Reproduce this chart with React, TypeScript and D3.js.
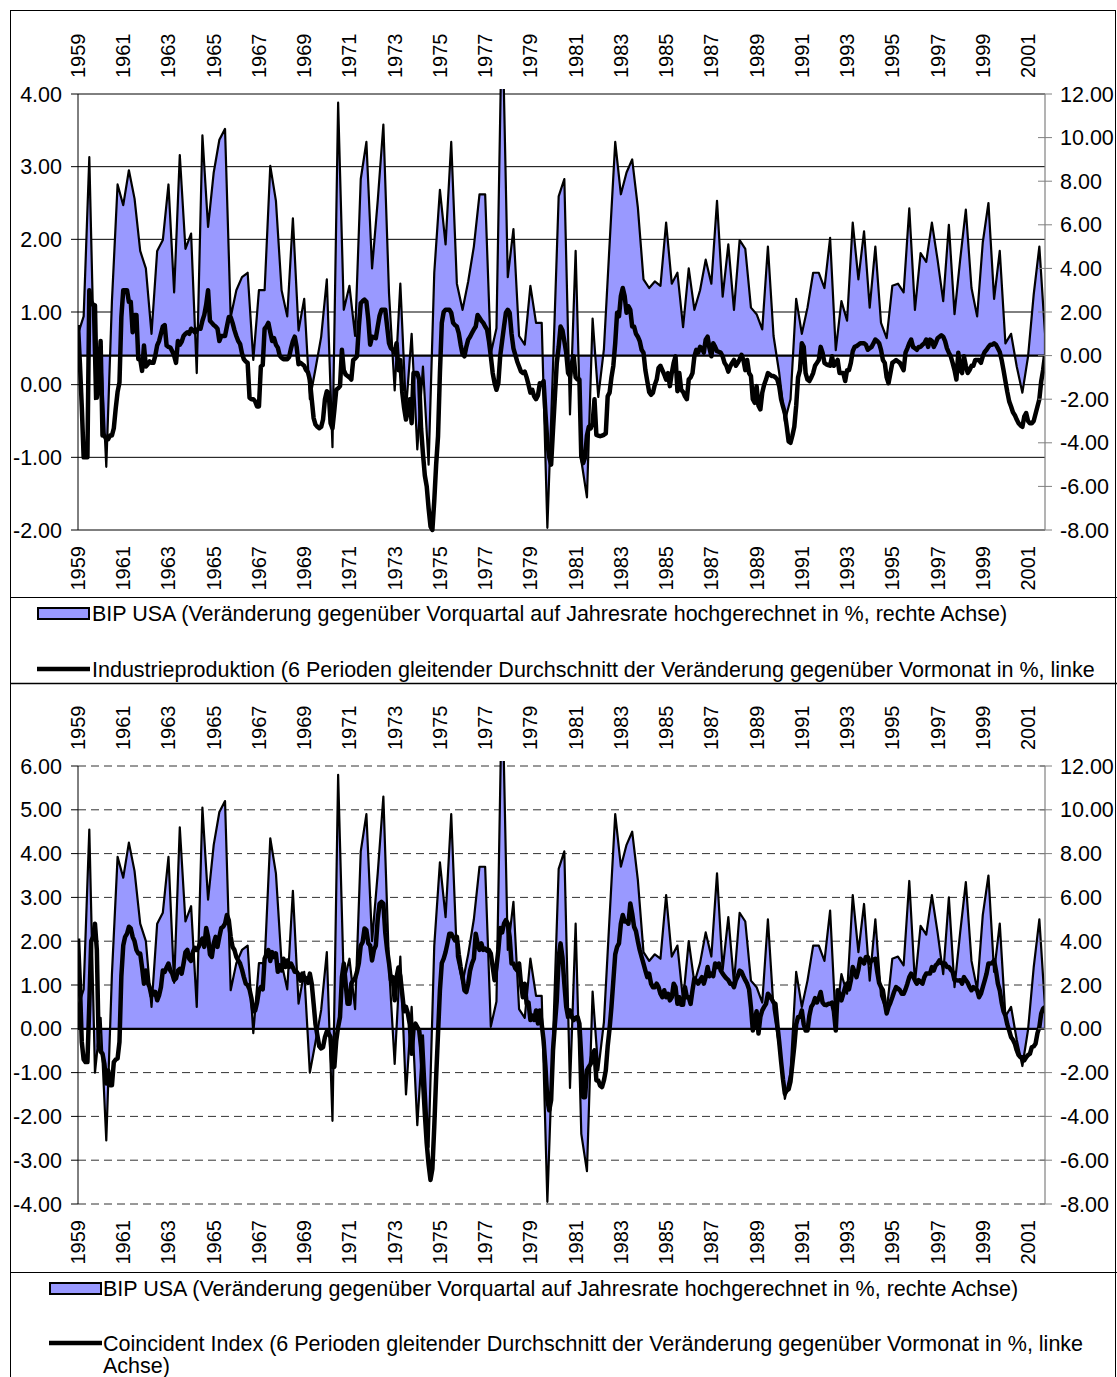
import React from 'react';
import * as d3 from 'd3';

// ---------- data ----------
const yearLabels = ['1959','1961','1963','1965','1967','1969','1971','1973','1975','1977','1979','1981','1983','1985','1987','1989','1991','1993','1995','1997','1999','2001'];

// BIP USA, quarterly annualised growth in % (right axis), top chart
const gdpTop = [
  1.0,1.8,9.1,-2.0,0.5,-5.1,2.5,7.85,6.9,8.5,
  7.2,4.8,4.0,1.0,4.8,5.3,7.85,2.9,9.2,4.9,
  5.6,-0.8,10.1,5.9,8.4,9.9,10.4,1.76,3.0,3.6,
  3.8,-0.2,3.0,3.0,8.7,7.1,3.0,1.8,6.3,1.15,
  2.6,-2.0,-0.6,0.86,3.5,-4.2,11.6,2.1,3.2,0.9,
  8.1,9.8,4.0,7.1,10.6,2.85,-1.6,3.3,-2.5,1.0,
  -4.3,-0.5,-5.0,3.8,7.6,5.1,9.8,3.3,2.1,3.4,
  5.0,7.4,7.4,0.1,1.25,16.0,3.6,5.8,0.9,0.5,
  3.2,1.5,1.5,-7.9,-0.5,7.3,8.1,-2.7,4.8,-4.8,
  -6.5,1.7,-1.9,0.3,5.1,9.8,7.4,8.4,9.0,6.8,
  3.5,3.1,3.4,3.2,6.1,3.3,3.8,1.3,4.0,2.1,
  3.0,4.4,3.3,7.1,2.7,5.1,2.1,5.3,4.9,2.2,
  1.9,1.2,5.0,0.9,-0.8,-3.0,-2.0,2.6,1.0,2.2,
  3.8,3.8,3.1,5.4,0.25,2.5,1.6,6.1,3.5,5.7,
  2.2,5.0,1.5,0.8,3.2,3.3,2.9,6.75,2.1,4.7,
  4.3,6.1,4.4,2.5,6.0,1.9,4.4,6.7,3.1,1.8,
  5.2,7.0,2.6,4.8,0.56,1.0,-0.5,-1.7,-0.05,2.8,
  5.0,1.0
];

// BIP USA, quarterly annualised growth in % (right axis), bottom chart
const gdpBottom = [
  1.0,1.8,9.1,-2.0,0.5,-5.1,2.5,7.85,6.9,8.5,
  7.2,4.8,4.0,1.0,4.8,5.3,7.85,2.1,9.2,4.9,
  5.6,1.0,10.1,5.9,8.4,9.9,10.4,1.76,3.0,3.6,
  3.8,-0.2,3.0,3.0,8.7,7.1,3.0,1.8,6.3,1.15,
  2.6,-2.0,-0.6,0.86,3.5,-4.2,11.6,2.1,3.2,0.9,
  8.1,9.8,4.0,7.1,10.6,2.85,-1.6,3.3,-3.0,1.0,
  -4.4,-0.3,-5.4,3.8,7.6,5.1,9.8,3.3,2.1,3.4,
  5.0,7.4,7.4,0.1,1.25,16.0,3.6,5.8,0.9,0.5,
  3.2,1.5,1.5,-7.9,-0.5,7.3,8.1,-2.7,4.8,-4.8,
  -6.5,1.7,-1.9,0.3,5.1,9.8,7.4,8.4,9.0,6.8,
  3.5,3.1,3.4,3.2,6.1,3.3,3.8,1.3,4.0,2.1,
  3.0,4.4,3.3,7.1,2.7,5.1,2.1,5.3,4.9,2.2,
  1.9,1.2,5.0,0.9,-0.8,-3.2,-2.0,2.6,1.0,2.2,
  3.8,3.8,3.1,5.4,0.25,2.5,1.6,6.1,3.5,5.7,
  2.2,5.0,1.5,0.8,3.2,3.3,2.9,6.75,2.1,4.7,
  4.3,6.1,4.4,2.5,6.0,1.9,4.4,6.7,3.1,1.8,
  5.2,7.0,2.6,4.8,0.56,1.0,-0.5,-1.7,-0.05,2.8,
  5.0,1.0
];

// Industrieproduktion, monthly (left axis)
const industrialProduction = [
  0.82,0.3,-0.3,-1.0,-1.0,-1.0,1.3,1.14,1.1,1.09,
  -0.18,0.04,0.6,-0.7,-0.7,-0.75,-0.75,-0.7,-0.7,-0.6,
  -0.33,-0.1,0.03,0.93,1.3,1.3,1.3,1.14,1.14,0.72,
  0.96,0.96,0.35,0.35,0.19,0.54,0.25,0.28,0.32,0.3,
  0.3,0.4,0.54,0.6,0.7,0.8,0.82,0.54,0.52,0.51,
  0.46,0.4,0.3,0.6,0.55,0.59,0.67,0.7,0.72,0.7,
  0.77,0.75,0.72,0.74,0.78,0.77,0.88,0.96,1.1,1.3,
  0.88,0.85,0.82,0.8,0.77,0.6,0.67,0.67,0.67,0.8,
  0.93,0.93,0.85,0.75,0.67,0.6,0.56,0.43,0.35,0.32,
  0.3,-0.18,-0.2,-0.2,-0.23,-0.3,-0.3,0.25,0.27,0.77,
  0.8,0.85,0.72,0.6,0.64,0.55,0.51,0.4,0.37,0.35,
  0.35,0.35,0.38,0.5,0.6,0.66,0.52,0.28,0.3,0.28,
  0.26,0.2,0.17,0.07,-0.2,-0.46,-0.55,-0.58,-0.6,-0.58,
  -0.48,-0.2,-0.09,-0.11,-0.53,-0.6,-0.35,-0.07,-0.05,-0.02,
  0.48,0.2,0.14,0.12,0.1,0.07,0.34,0.36,0.39,0.8,
  1.12,1.15,1.17,1.14,0.9,0.55,0.66,0.65,0.64,0.8,
  0.95,1.03,1.03,1.03,0.8,0.57,0.5,0.48,0.44,0.57,
  0.2,0.34,-0.1,-0.32,-0.48,-0.35,-0.2,-0.53,0.16,0.16,
  0.16,0.07,-0.6,-0.95,-1.25,-1.4,-1.7,-1.95,-2.0,-1.6,
  -1.1,-0.71,0.16,0.85,1.0,1.03,1.03,1.03,0.99,0.85,
  0.82,0.8,0.71,0.55,0.42,0.39,0.52,0.62,0.66,0.71,
  0.76,0.8,0.96,0.92,0.88,0.85,0.8,0.76,0.6,0.39,
  0.16,0.02,-0.07,0.02,0.4,0.6,0.8,0.99,1.03,0.99,
  0.7,0.5,0.41,0.32,0.25,0.18,0.16,0.18,0.1,0.0,
  -0.11,-0.07,-0.16,-0.2,-0.15,0.02,0.0,0.05,-0.4,-0.8,
  -1.0,-1.1,-0.62,-0.16,0.3,0.52,0.8,0.75,0.6,0.44,
  0.16,0.12,0.3,0.39,0.1,0.07,0.07,-0.99,-1.08,-1.0,
  -0.7,-0.58,-0.6,-0.53,-0.2,-0.69,-0.7,-0.71,-0.7,-0.69,
  -0.67,-0.16,-0.11,0.1,0.26,0.57,0.99,0.94,1.22,1.33,
  1.22,0.99,1.08,1.03,0.8,0.8,0.7,0.66,0.6,0.48,
  0.44,0.2,0.05,-0.1,-0.14,-0.11,0.0,0.07,0.23,0.26,
  0.2,0.14,0.07,0.16,-0.02,0.16,0.3,0.39,-0.09,0.16,
  -0.07,-0.1,-0.16,-0.2,0.07,0.1,0.16,0.39,0.48,0.44,
  0.52,0.5,0.44,0.62,0.66,0.5,0.39,0.57,0.52,0.46,
  0.45,0.44,0.39,0.3,0.26,0.18,0.25,0.3,0.34,0.26,
  0.3,0.35,0.41,0.34,0.2,0.34,0.16,0.12,-0.2,-0.25,
  -0.02,-0.29,-0.34,-0.11,0.0,0.07,0.16,0.14,0.12,0.12,
  0.1,0.07,-0.02,-0.2,-0.3,-0.39,-0.58,-0.78,-0.8,-0.7,
  -0.58,-0.29,0.1,0.2,0.57,0.52,0.16,0.07,0.05,0.1,
  0.16,0.26,0.3,0.34,0.52,0.44,0.3,0.28,0.27,0.26,
  0.39,0.26,0.3,0.34,0.16,0.16,0.16,0.05,0.2,0.2,
  0.3,0.46,0.52,0.53,0.55,0.57,0.57,0.57,0.55,0.48,
  0.5,0.52,0.57,0.62,0.6,0.57,0.48,0.34,0.3,0.1,
  0.02,0.16,0.3,0.32,0.34,0.32,0.3,0.25,0.2,0.44,
  0.5,0.57,0.62,0.52,0.5,0.48,0.52,0.52,0.55,0.57,
  0.62,0.52,0.62,0.6,0.52,0.57,0.64,0.66,0.68,0.66,
  0.6,0.5,0.44,0.39,0.3,0.2,0.07,0.44,0.2,0.16,
  0.39,0.26,0.16,0.2,0.26,0.26,0.34,0.34,0.34,0.3,
  0.39,0.45,0.48,0.52,0.55,0.55,0.57,0.55,0.5,0.45,
  0.34,0.2,0.05,-0.1,-0.23,-0.3,-0.38,-0.42,-0.48,-0.53,
  -0.56,-0.58,-0.44,-0.39,-0.5,-0.53,-0.53,-0.5,-0.4,-0.3,
  -0.2,0.05,0.2,0.4
];

// Coincident Index, monthly (left axis)
const coincidentIndex = [
  2.06,1.03,-0.3,-0.7,-0.76,-0.76,0.57,2.0,2.1,2.4,
  1.8,-0.4,-0.52,-0.57,-0.8,-1.25,-0.95,-1.29,-1.29,-0.76,
  -0.7,-0.68,-0.3,1.2,1.9,2.1,2.17,2.33,2.29,2.1,
  2.0,1.8,1.72,1.72,1.4,1.03,1.33,1.05,0.95,0.75,
  0.85,0.84,0.65,0.76,0.95,1.33,1.3,1.4,1.49,1.33,
  1.26,1.11,1.15,1.33,1.37,1.26,1.49,1.75,1.8,1.6,
  1.55,1.76,1.85,1.8,1.87,1.98,2.06,1.87,2.3,2.1,
  1.7,1.64,1.95,2.1,1.87,2.1,2.3,2.33,2.4,2.6,
  2.48,2.1,1.87,1.8,1.64,1.56,1.49,1.35,1.18,1.03,
  1.0,0.9,0.7,0.4,0.42,0.6,0.88,0.95,0.9,1.6,
  1.7,1.8,1.55,1.75,1.64,1.72,1.3,1.45,1.33,1.6,
  1.41,1.56,1.41,1.49,1.4,1.3,1.3,1.24,1.1,1.26,
  1.18,1.15,1.05,1.26,1.03,0.57,0.1,-0.15,-0.4,-0.45,
  -0.42,-0.19,-0.06,-0.11,-0.19,-0.87,-0.87,-0.27,0.04,0.27,
  1.18,1.49,1.03,0.57,0.57,1.03,1.11,1.15,1.3,1.5,
  1.9,1.98,2.29,2.25,1.95,1.9,1.56,1.8,1.9,2.5,
  2.86,2.9,2.86,2.2,1.8,1.5,1.11,1.18,0.65,1.18,
  1.4,1.2,0.8,0.4,0.5,0.35,0.1,-0.57,0.0,0.12,
  0.04,-0.04,-0.42,-1.18,-1.94,-2.62,-3.1,-3.45,-3.2,-2.24,
  -1.1,-0.11,0.88,1.5,1.6,1.75,1.95,2.17,2.17,2.1,
  2.02,2.1,1.7,1.41,1.18,0.88,0.84,1.03,1.33,1.49,
  1.6,2.17,1.95,1.8,1.95,1.8,1.83,1.78,1.8,1.72,
  1.41,1.11,1.41,1.8,2.3,2.2,2.4,2.48,2.4,2.1,
  1.49,1.49,1.38,1.33,1.49,1.03,0.72,1.03,0.57,0.6,
  0.2,0.3,0.2,0.42,0.12,0.42,0.1,-0.27,-0.87,-1.63,
  -1.86,-1.63,-0.49,0.1,0.65,1.64,1.95,1.64,1.03,0.5,
  0.27,0.42,0.27,0.2,0.25,0.27,0.12,-0.65,-1.56,-1.56,
  -0.95,-0.87,-0.8,-0.57,-0.49,-1.18,-1.18,-1.3,-1.33,-1.18,
  -0.95,-0.4,0.0,0.5,1.1,1.7,1.87,1.95,2.4,2.6,
  2.45,2.45,2.4,2.86,2.63,2.33,2.23,2.0,1.8,1.64,
  1.49,1.33,1.18,1.26,1.03,0.95,0.95,1.03,0.95,0.8,
  0.72,0.88,0.72,0.8,0.65,0.72,1.03,0.95,0.57,0.72,
  0.55,0.55,0.95,0.72,0.72,0.57,0.88,1.15,1.1,1.03,
  1.11,1.18,1.03,1.18,1.41,1.2,1.26,1.2,1.49,1.41,
  1.49,1.33,1.26,1.2,1.15,1.11,1.03,1.03,0.95,1.11,
  1.2,1.33,1.3,1.2,1.11,1.03,0.9,0.5,-0.04,0.2,
  0.4,-0.11,0.27,0.42,0.5,0.57,0.8,0.75,0.68,0.6,
  0.57,0.1,-0.3,-0.75,-1.15,-1.48,-1.41,-1.38,-1.2,-0.8,
  -0.4,0.1,0.27,0.27,0.42,0.1,-0.04,-0.04,0.3,0.5,
  0.57,0.7,0.6,0.7,0.84,0.6,0.55,0.54,0.57,0.57,
  0.6,0.4,-0.04,0.88,0.8,0.65,0.8,0.95,1.03,0.9,
  1.1,1.41,1.3,1.18,1.35,1.6,1.55,1.49,1.64,1.64,
  1.5,1.56,1.58,1.6,1.3,1.05,0.95,0.88,0.6,0.35,
  0.5,0.6,0.72,0.85,0.95,0.92,0.88,0.8,0.8,0.9,
  1.03,1.18,1.26,1.2,1.11,1.03,1.11,1.07,1.03,1.18,
  1.26,1.26,1.26,1.41,1.33,1.45,1.49,1.56,1.5,1.49,
  1.49,1.41,1.41,1.35,1.3,1.11,1.11,1.1,1.11,1.03,
  1.18,1.11,1.05,0.95,0.88,0.95,0.92,0.88,0.72,0.8,
  0.95,1.1,1.26,1.49,1.49,1.5,1.56,1.33,1.03,0.88,
  0.6,0.4,0.3,0.1,-0.04,-0.19,-0.25,-0.34,-0.49,-0.6,
  -0.65,-0.65,-0.72,-0.65,-0.6,-0.57,-0.42,-0.4,-0.34,-0.1,
  0.04,0.35,0.46,0.5
];

const leftTicksTop = [4, 3, 2, 1, 0, -1, -2];
const leftTicksBottom = [6, 5, 4, 3, 2, 1, 0, -1, -2, -3, -4];
const rightTicks = [12, 10, 8, 6, 4, 2, 0, -2, -4, -6, -8];

const legendGdp = 'BIP USA (Veränderung gegenüber Vorquartal auf Jahresrate hochgerechnet in %, rechte Achse)';
const legendIP = 'Industrieproduktion (6 Perioden gleitender Durchschnitt der Veränderung gegenüber Vormonat in %, linke';
const legendCI1 = 'Coincident Index (6 Perioden gleitender Durchschnitt der Veränderung gegenüber Vormonat in %, linke';
const legendCI2 = 'Achse)';

// ---------- layout ----------
const W = 1117;
const H = 1377;
const X0 = 78;
const X1 = 1045;
const FONT = "'Liberation Sans', Arial, Helvetica, sans-serif";
const AREA_FILL = '#9999FF';
const TICK_FS = 21.5;
const YEAR_FS = 20;
const LEGEND_FS = 21.5;

type PanelProps = {
  id: string;
  top: number;
  bottom: number;
  leftDomain: [number, number];
  leftTicks: number[];
  gdp: number[];
  line: number[];
  dashed: boolean;
};

function Panel({ id, top, bottom, leftDomain, leftTicks, gdp, line, dashed }: PanelProps) {
  const xm = d3.scaleLinear().domain([0, line.length - 1]).range([X0, X1]);
  const xq = d3.scaleLinear().domain([0, gdp.length - 1]).range([X0, X1]);
  const yL = d3.scaleLinear().domain(leftDomain).range([bottom, top]);
  const yR = d3.scaleLinear().domain([-8, 12]).range([bottom, top]);

  const areaGen = d3.area<number>()
    .x((_, i) => xq(i))
    .y0(yR(0))
    .y1((d) => yR(d));
  const lineGen = d3.line<number>()
    .x((_, i) => xm(i))
    .y((d) => yL(d));

  const clip = `clip-${id}`;
  return (
    <g>
      <defs>
        <clipPath id={clip}>
          <rect x={X0} y={top - 5} width={X1 - X0} height={bottom - top + 10} />
        </clipPath>
      </defs>
      {leftTicks.map((t) => (
        <line key={`g${t}`} x1={X0} x2={X1} y1={yL(t)} y2={yL(t)}
          stroke={dashed ? '#333' : '#000'} strokeWidth={1}
          strokeDasharray={dashed ? '8,5' : undefined} />
      ))}
      <path d={areaGen(gdp) || ''} fill={AREA_FILL} stroke="#000" strokeWidth={2.2}
        strokeLinejoin="round" clipPath={`url(#${clip})`} />
      <path d={lineGen(line) || ''} fill="none" stroke="#000" strokeWidth={4.5}
        strokeLinejoin="round" clipPath={`url(#${clip})`} />
      <line x1={X0} x2={X0} y1={top} y2={bottom} stroke="#000" strokeWidth={1} />
      <line x1={X1} x2={X1} y1={top} y2={bottom} stroke="#808080" strokeWidth={1.2} />
      {leftTicks.map((t) => (
        <g key={`l${t}`}>
          <line x1={X0 - 7} x2={X0} y1={yL(t)} y2={yL(t)} stroke="#000" strokeWidth={1} />
          <text x={X0 - 16} y={yL(t)} dy="0.35em" textAnchor="end" fontSize={TICK_FS} fontFamily={FONT}>
            {t.toFixed(2)}
          </text>
        </g>
      ))}
      {rightTicks.map((t) => (
        <g key={`r${t}`}>
          <line x1={X1 - 7} x2={X1 + 7} y1={yR(t)} y2={yR(t)} stroke="#808080" strokeWidth={1} />
          <text x={X1 + 15} y={yR(t)} dy="0.35em" textAnchor="start" fontSize={TICK_FS} fontFamily={FONT}>
            {t.toFixed(2)}
          </text>
        </g>
      ))}
      {yearLabels.map((lab, k) => {
        const x = xm(k * 24);
        return (
          <g key={`y${lab}`}>
            <text transform={`translate(${x},${top - 16}) rotate(-90)`} dy="0.35em"
              textAnchor="start" fontSize={YEAR_FS} fontFamily={FONT}>{lab}</text>
            <text transform={`translate(${x},${bottom + 16}) rotate(-90)`} dy="0.35em"
              textAnchor="end" fontSize={YEAR_FS} fontFamily={FONT}>{lab}</text>
          </g>
        );
      })}
    </g>
  );
}

export default function App() {
  return (
    <div style={{ position: 'absolute', left: 0, top: 0 }}>
      <svg width={W} height={H} viewBox={`0 0 ${W} ${H}`} style={{ display: 'block', background: '#fff' }}>
        <rect x={0} y={0} width={W} height={H} fill="#fff" />
        <rect x={10.5} y={10.5} width={1105} height={1380} fill="none" stroke="#000" strokeWidth={1} />
        <line x1={10} x2={1117} y1={597.5} y2={597.5} stroke="#000" strokeWidth={1} />
        <line x1={10} x2={1117} y1={683.5} y2={683.5} stroke="#000" strokeWidth={1.5} />
        <line x1={10} x2={1117} y1={1272.5} y2={1272.5} stroke="#000" strokeWidth={1} />

        <Panel id="top" top={94} bottom={530} leftDomain={[-2, 4]} leftTicks={leftTicksTop}
          gdp={gdpTop} line={industrialProduction} dashed={false} />
        <Panel id="bottom" top={766} bottom={1204} leftDomain={[-4, 6]} leftTicks={leftTicksBottom}
          gdp={gdpBottom} line={coincidentIndex} dashed={true} />

        <rect x={38} y={608} width={51} height={11} fill={AREA_FILL} stroke="#000" strokeWidth={2} />
        <text x={92} y={620.5} fontSize={LEGEND_FS} fontFamily={FONT}>{legendGdp}</text>
        <line x1={37} x2={90} y1={669} y2={669} stroke="#000" strokeWidth={4.5} />
        <text x={92} y={676.5} fontSize={LEGEND_FS} fontFamily={FONT}>{legendIP}</text>

        <rect x={50} y={1283} width={51} height={11} fill={AREA_FILL} stroke="#000" strokeWidth={2} />
        <text x={103} y={1295.5} fontSize={LEGEND_FS} fontFamily={FONT}>{legendGdp}</text>
        <line x1={49} x2={102} y1={1343} y2={1343} stroke="#000" strokeWidth={4.5} />
        <text x={103} y={1350.5} fontSize={LEGEND_FS} fontFamily={FONT}>{legendCI1}</text>
        <text x={103} y={1373} fontSize={LEGEND_FS} fontFamily={FONT}>{legendCI2}</text>
      </svg>
    </div>
  );
}
